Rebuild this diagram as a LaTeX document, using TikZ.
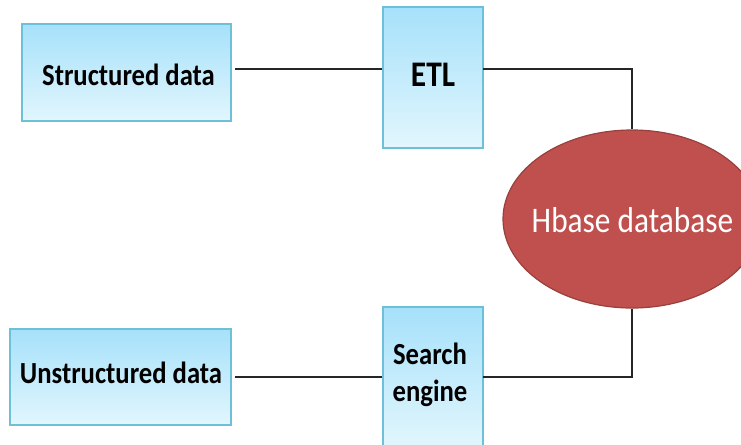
\documentclass[tikz,border=0pt]{standalone}
\usepackage{fontspec}
\usepackage{graphicx}
\setmainfont{Carlito}
\usetikzlibrary{shapes.geometric}
\definecolor{boxtop}{HTML}{A6E1FA}
\definecolor{boxbot}{HTML}{E2F6FD}
\definecolor{boxline}{HTML}{6EBFD8}
\definecolor{dbfill}{HTML}{C0504D}
\definecolor{dbline}{HTML}{98403D}
\newcommand\vstretch[1]{\scalebox{1}[1.15]{#1}}
\tikzset{
  box/.style={draw=boxline, line width=0.9pt, top color=boxtop, bottom color=boxbot,
    inner sep=0pt},
  lbl/.style={font=\bfseries\fontsize{20}{24}\selectfont, inner sep=0pt},
  conn/.style={draw=black!85, line width=1pt},
}
\begin{document}
\begin{tikzpicture}[x=0.75pt,y=-0.75pt]
\useasboundingbox (0,0) rectangle (741,444);
\clip (0,0) rectangle (741,444);
\node[box, minimum width=209*0.75pt, minimum height=97*0.75pt] (sd) at (126.5,72.5) {};
\node[lbl] (sdt) at (128.5,75) {\vstretch{Structured data}};
\node[box, minimum width=100*0.75pt, minimum height=141*0.75pt] (etl) at (433,77.5) {};
\node[lbl, font=\bfseries\fontsize{23.5}{28}\selectfont] (etlt) at (433,75) {\vstretch{ETL}};
\node[box, minimum width=221*0.75pt, minimum height=96*0.75pt] (ud) at (120.5,377) {};
\node[lbl] (udt) at (121,373) {\vstretch{Unstructured data}};
\node[box, minimum width=100*0.75pt, minimum height=141*0.75pt] (se) at (433,377.5) {};
\node[lbl] (set) at (430,376) {\vstretch{\begin{tabular}{@{}c@{}}Search\\engine\end{tabular}}};
\node[ellipse, draw=dbline, line width=0.9pt, fill=dbfill, minimum width=258*0.75pt, minimum height=178*0.75pt, inner sep=0pt] (db) at (632,219) {};
\node[text=white, font=\fontsize{23.5}{28}\selectfont, inner sep=0pt] (dbt) at (632.5,220) {\vstretch{Hbase database}};
\coordinate (s1) at (235,69);
\coordinate (e1) at (483,69);
\coordinate (u1) at (235,377);
\coordinate (e2) at (483,377);
\draw[conn] (s1) -- (s1 -| etl.west);
\draw[conn] (e1) -| (db.north);
\draw[conn] (u1) -- (u1 -| se.west);
\draw[conn] (e2) -| (db.south);
\end{tikzpicture}
\end{document}
